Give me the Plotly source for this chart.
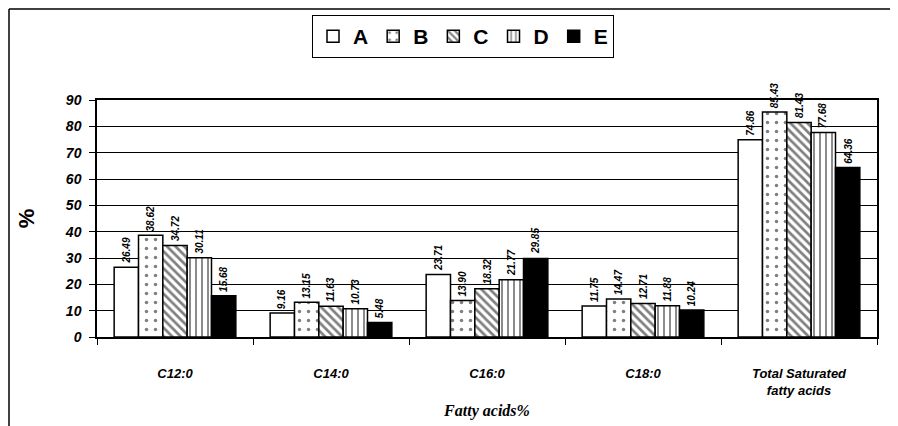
import plotly.graph_objects as go

categories = ["C12:0", "C14:0", "C16:0", "C18:0", "Total Saturated<br>fatty acids"]
series_names = ["A", "B", "C", "D", "E"]
A = [26.49, 9.16, 23.71, 11.75, 74.86]
B = [38.62, 13.15, 13.90, 14.47, 85.43]
C = [34.72, 11.63, 18.32, 12.71, 81.43]
D = [30.11, 10.73, 21.77, 11.88, 77.68]
E = [15.68, 5.48, 29.85, 10.24, 64.36]
y_ticks = [0, 10, 20, 30, 40, 50, 60, 70, 80, 90]

series = [A, B, C, D, E]
patterns = [
    dict(shape=""),
    dict(shape=".", size=9, solidity=0.12, fgcolor="black", bgcolor="white", fillmode="overlay"),
    dict(shape="\\", size=6, solidity=0.45, fgcolor="black", bgcolor="white", fillmode="overlay"),
    dict(shape="|", size=6, solidity=0.3, fgcolor="black", bgcolor="white", fillmode="overlay"),
    dict(shape=""),
]
fills = ["white", "white", "white", "white", "black"]

W, H = 890, 418
ML, MR, MT, MB = 89, 21, 92, 89
plot_w = W - ML - MR
plot_h = H - MT - MB
bargap = 0.22
bar_px = plot_w / len(categories) * (1 - bargap) / len(series)

fig = go.Figure()
annotations = []
for i, (name, vals, pat, fc) in enumerate(zip(series_names, series, patterns, fills)):
    fig.add_trace(go.Bar(
        name=name, x=categories, y=vals,
        marker=dict(color=fc, line=dict(color="black", width=1.5), pattern=pat),
        cliponaxis=False,
    ))
    for cat, v in zip(categories, vals):
        annotations.append(dict(
            x=cat, y=v, xref="x", yref="y", text=f"{v:.2f}", showarrow=False,
            textangle=-90, xanchor="center", yanchor="bottom",
            xshift=(i - 2) * bar_px, yshift=2,
            font=dict(family="Arial", size=10, color="black", weight="bold", style="italic"),
        ))

fig.update_layout(
    width=W, height=H,
    margin=dict(l=ML, r=MR, t=MT, b=MB, autoexpand=False),
    paper_bgcolor="white", plot_bgcolor="white",
    barmode="group", bargap=bargap, bargroupgap=0,
    showlegend=True,
    legend=dict(orientation="h", x=(455 - ML) / plot_w, xanchor="center",
                y=1 + (MT - 7) / plot_h, yanchor="top",
                bordercolor="black", borderwidth=1, bgcolor="white",
                font=dict(family="Arial", size=21, color="black", weight="bold"),
                itemwidth=30, tracegroupgap=0),
    annotations=annotations,
    xaxis=dict(
        automargin=False,
        showline=True, linecolor="black", linewidth=1.5, mirror=True,
        ticks="outside", tickson="boundaries", ticklen=6, tickcolor="black",
        ticklabelstandoff=24,
        tickfont=dict(family="Arial", size=13, color="black", weight="bold", style="italic"),
        title=dict(text="Fatty acids%", standoff=8,
                   font=dict(family="Times New Roman", size=16, color="black", weight="bold", style="italic")),
    ),
    yaxis=dict(
        automargin=False,
        range=[0, 90], tickvals=y_ticks,
        showline=True, linecolor="black", linewidth=1.5, mirror=True,
        showgrid=True, gridcolor="black", gridwidth=1,
        ticks="outside", ticklen=6, tickcolor="black",
        ticklabelstandoff=5,
        tickfont=dict(family="Arial", size=14, color="black", weight="bold", style="italic"),
        title=dict(text="%", standoff=24,
                   font=dict(family="Arial", size=22, color="black", weight="bold")),
    ),
    shapes=[
        dict(type="line", xref="paper", yref="paper",
             x0=-(ML - 1) / plot_w, x1=(W - ML) / plot_w,
             y0=1 + (MT - 1) / plot_h, y1=1 + (MT - 1) / plot_h,
             line=dict(color="black", width=1.5)),
        dict(type="line", xref="paper", yref="paper",
             x0=-(ML - 1) / plot_w, x1=-(ML - 1) / plot_w,
             y0=1 + (MT - 1) / plot_h, y1=-MB / plot_h,
             line=dict(color="black", width=1.5)),
    ],
)

fig.write_html("out.html")
